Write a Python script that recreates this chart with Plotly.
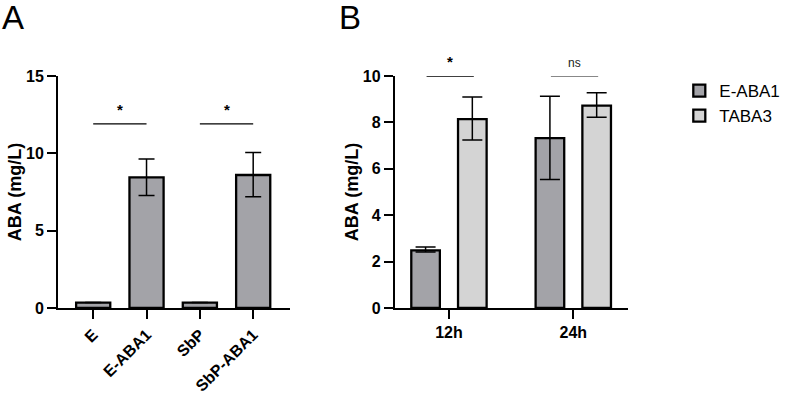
import plotly.graph_objects as go

# Panel A data
a_cats = ["E", "E-ABA1", "SbP", "SbP-ABA1"]
a_vals = [0.35, 8.45, 0.35, 8.6]
a_err_plus = [0.0, 1.18, 0.0, 1.46]
a_err_minus = [0.0, 1.18, 0.0, 1.4]

# Panel B data
b_cats = ["12h", "24h"]
b_eaba1 = [2.48, 7.32]
b_eaba1_plus = [0.15, 1.81]
b_eaba1_minus = [0.07, 1.78]
b_taba3 = [8.14, 8.72]
b_taba3_plus = [0.95, 0.56]
b_taba3_minus = [0.9, 0.5]

DARK = "#A3A3A8"
LIGHT = "#D4D4D4"
FONT = "Liberation Sans, Arial, sans-serif"

fig = go.Figure()

fig.add_trace(go.Bar(
    x=a_cats, y=a_vals, xaxis="x", yaxis="y", width=0.64,
    marker=dict(color=DARK, line=dict(color="black", width=2.3)),
    error_y=dict(type="data", symmetric=False, array=a_err_plus, arrayminus=a_err_minus,
                 color="black", thickness=1.5, width=8),
    showlegend=False,
))

fig.add_trace(go.Bar(
    x=b_cats, y=b_eaba1, name="E-ABA1", xaxis="x2", yaxis="y2",
    width=0.23, offset=-0.303,
    marker=dict(color=DARK, line=dict(color="black", width=2.3)),
    error_y=dict(type="data", symmetric=False, array=b_eaba1_plus, arrayminus=b_eaba1_minus,
                 color="black", thickness=1.5, width=10),
))
fig.add_trace(go.Bar(
    x=b_cats, y=b_taba3, name="TABA3", xaxis="x2", yaxis="y2",
    width=0.23, offset=0.073,
    marker=dict(color=LIGHT, line=dict(color="black", width=2.3)),
    error_y=dict(type="data", symmetric=False, array=b_taba3_plus, arrayminus=b_taba3_minus,
                 color="black", thickness=1.5, width=10),
))

axis_common = dict(showline=True, linecolor="black", linewidth=2, ticks="outside",
                   ticklen=9, tickwidth=2, tickcolor="black", showgrid=False, zeroline=False,
                   automargin=False,
                   tickfont=dict(family=FONT, size=16, color="black", weight="bold"))
title_font = dict(family=FONT, size=18, color="black", weight="bold")

fig.update_layout(
    width=787, height=395,
    margin=dict(l=58, r=159, t=76, b=87, autoexpand=False),
    paper_bgcolor="white", plot_bgcolor="white",
    barmode="group",
    xaxis=dict(domain=[0, 0.407], range=[-0.66, 3.69], tickangle=-45, anchor="y", **axis_common),
    yaxis=dict(domain=[0, 1], range=[0, 15], tickvals=[0, 5, 10, 15], anchor="x",
               title=dict(text="ABA (mg/L)", standoff=0, font=title_font), **axis_common),
    xaxis2=dict(domain=[0.591, 1], range=[-0.435, 1.44], anchor="y2", **axis_common),
    yaxis2=dict(domain=[0, 1], range=[0, 10], tickvals=[0, 2, 4, 6, 8, 10], anchor="x2",
                title=dict(text="ABA (mg/L)", standoff=0, font=title_font), **axis_common),
    legend=dict(x=1.09, y=1.013, xanchor="left", yanchor="top",
                font=dict(family=FONT, size=17, color="black"),
                bgcolor="rgba(0,0,0,0)", tracegroupgap=0, itemwidth=30),
    font=dict(family=FONT, color="black"),
)

# significance lines
shapes = [
    dict(type="line", xref="x", yref="y", x0=0, x1=1, y0=11.9, y1=11.9,
         line=dict(color="black", width=1.3)),
    dict(type="line", xref="x", yref="y", x0=2, x1=3, y0=11.9, y1=11.9,
         line=dict(color="black", width=1.3)),
    dict(type="line", xref="x2", yref="y2", x0=-0.18, x1=0.2, y0=10.0, y1=10.0,
         line=dict(color="black", width=1.3)),
    dict(type="line", xref="x2", yref="y2", x0=0.82, x1=1.2, y0=10.0, y1=10.0,
         line=dict(color="#606060", width=1.3)),
]
fig.update_layout(shapes=shapes)

ann = [
    dict(text="*", xref="x", yref="y", x=0.5, y=11.9, yshift=4, yanchor="bottom", showarrow=False,
         font=dict(family=FONT, size=15, color="black", weight="bold")),
    dict(text="*", xref="x", yref="y", x=2.5, y=11.9, yshift=4, yanchor="bottom", showarrow=False,
         font=dict(family=FONT, size=15, color="black", weight="bold")),
    dict(text="*", xref="x2", yref="y2", x=0.01, y=10.0, yshift=4, yanchor="bottom", showarrow=False,
         font=dict(family=FONT, size=15, color="black", weight="bold")),
    dict(text="ns", xref="x2", yref="y2", x=1.01, y=10.0, yshift=4, yanchor="bottom", showarrow=False,
         font=dict(family=FONT, size=12, color="#222222")),
    dict(text="A", xref="paper", yref="paper", x=-0.102, y=1.34, xanchor="left", yanchor="top",
         showarrow=False, font=dict(family=FONT, size=33, color="black")),
    dict(text="B", xref="paper", yref="paper", x=0.49, y=1.34, xanchor="left", yanchor="top",
         showarrow=False, font=dict(family=FONT, size=33, color="black")),
]
fig.update_layout(annotations=ann)

fig.write_html("out.html", config={"displayModeBar": False},
               post_script="document.body.style.margin='0';document.body.style.overflow='hidden';")
